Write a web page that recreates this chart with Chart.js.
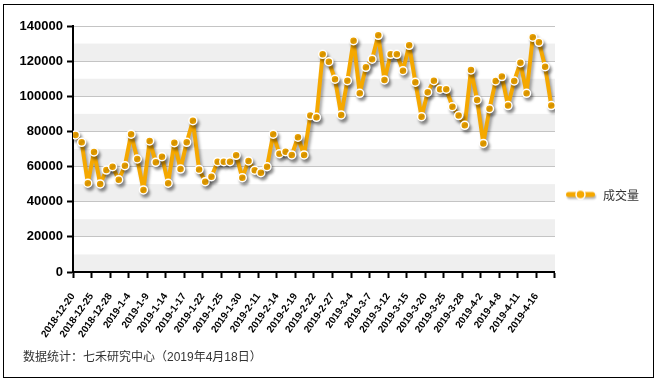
<!DOCTYPE html>
<html><head><meta charset="utf-8">
<script src="https://cdn.jsdelivr.net/npm/chart.js@4.4.1/dist/chart.umd.min.js"></script>
<style>html,body{margin:0;padding:0;background:#fff;} canvas{display:block;}</style>
</head><body>
<canvas id="c" width="657" height="382"></canvas>
<script>
const seriesName = '成交量';
const sourceNote = '数据统计：七禾研究中心（2019年4月18日）';
const tickLabels = ['2018-12-20','2018-12-25','2018-12-28','2019-1-4','2019-1-9','2019-1-14','2019-1-17','2019-1-22','2019-1-25','2019-1-30','2019-2-11','2019-2-14','2019-2-19','2019-2-22','2019-2-27','2019-3-4','2019-3-7','2019-3-12','2019-3-15','2019-3-20','2019-3-25','2019-3-28','2019-4-2','2019-4-8','2019-4-11','2019-4-16'];
const pointsPerLabel = 3;
const volumes = [
  78000, 73800, 50500, 68300, 50100, 58000, 59900, 52500, 60500, 78400,
  64300, 46700, 74600, 62400, 65600, 50500, 73600, 58600, 73800, 86100,
  58400, 51400, 54200, 62800, 62800, 62800, 66400, 53700, 63200, 57900,
  56500, 59900, 78400, 67300, 68500, 66600, 76700, 66600, 89000, 88000,
  123900, 119700, 109700, 89400, 108900, 131600, 101700, 116500, 121100, 134700,
  109300, 123900, 123900, 114600, 129000, 108000, 88400, 102300, 108900, 104000,
  104000, 94100, 89000, 83500, 115000, 97900, 73200, 92900, 108700, 111200,
  94700, 108700, 119100, 101700, 133600, 130700, 116800, 94700
];
const yMax = 140000, yStep = 10000, yLabelStep = 20000;

const ORANGE = '#F5A800';
const FONT = '"Liberation Sans", Arial, "Noto Sans CJK SC", sans-serif';
Chart.defaults.font.family = FONT;

const legendIcon = (() => {
  const c = document.createElement('canvas'); c.width = 32; c.height = 16;
  const g = c.getContext('2d');
  g.shadowColor = 'rgba(0,0,0,0.3)'; g.shadowBlur = 2; g.shadowOffsetX = 1; g.shadowOffsetY = 2;
  g.strokeStyle = ORANGE; g.lineWidth = 5; g.lineCap = 'round';
  g.beginPath(); g.moveTo(3.5, 7); g.lineTo(27.5, 7); g.stroke();
  g.shadowColor = 'rgba(0,0,0,0)';
  g.beginPath(); g.arc(15.5, 7, 4.5, 0, Math.PI * 2);
  g.fillStyle = ORANGE; g.fill(); g.lineWidth = 1.5; g.strokeStyle = '#fff'; g.stroke();
  return c;
})();

const framePlugin = {
  id: 'frame',
  afterLayout(chart) {
    // widen the y-axis label clip box leftwards so the wide tick labels are not cut
    chart.scales.y.left -= 8;
  },
  beforeDraw(chart) {
    const {ctx, chartArea: a, scales: {y}} = chart;
    ctx.save();
    ctx.fillStyle = '#fff'; ctx.fillRect(0, 0, chart.width, chart.height);
    ctx.fillStyle = '#efefef';
    for (let v = 0; v < y.max; v += 2 * yStep) {
      const t = y.getPixelForValue(v + yStep), b = y.getPixelForValue(v);
      ctx.fillRect(a.left, t, a.right - a.left, b - t);
    }
    ctx.strokeStyle = '#000'; ctx.lineWidth = 1;
    ctx.strokeRect(3.5, 4.5, 650, 373);
    ctx.restore();
  }
};
const shadowPlugin = {
  id: 'shadow',
  beforeDatasetsDraw(chart) {
    const ctx = chart.ctx; ctx.save();
    ctx.shadowColor = 'rgba(0,0,0,0.35)'; ctx.shadowBlur = 3; ctx.shadowOffsetX = 2; ctx.shadowOffsetY = 3;
  },
  afterDatasetsDraw(chart) { chart.ctx.restore(); }
};

new Chart(document.getElementById('c'), {
  type: 'line',
  data: {
    datasets: [{
      label: seriesName,
      data: volumes.map((v, i) => ({x: i + 0.4, y: v})),
      borderColor: ORANGE, backgroundColor: ORANGE, borderWidth: 4, borderJoinStyle: 'round', borderCapStyle: 'round',
      pointRadius: 4, pointBackgroundColor: ORANGE, pointBorderColor: '#fff', pointBorderWidth: 1.5,
      tension: 0, fill: false
    }]
  },
  options: {
    responsive: false, animation: false, devicePixelRatio: 1,
    layout: {padding: {left: 23, top: 26, right: 8, bottom: 17}},
    plugins: {
      legend: {
        position: 'right',
        labels: {usePointStyle: true, pointStyle: legendIcon, pointStyleWidth: 32, padding: 10,
                 font: {size: 12, family: '"Noto Sans CJK SC", sans-serif'}, color: '#333'}
      },
      title: {display: true, position: 'bottom', align: 'start', text: sourceNote,
              font: {size: 12, weight: 'normal'}, color: '#333', padding: 0},
      tooltip: {enabled: false}
    },
    scales: {
      x: {
        type: 'linear', min: 0, max: tickLabels.length * pointsPerLabel,
        afterFit(s) { s.height = 78.6; },
        grid: {drawOnChartArea: false, tickLength: 6, tickWidth: 2, tickColor: '#000'},
        border: {color: '#000', width: 2},
        ticks: {stepSize: pointsPerLabel, autoSkip: false, maxRotation: 55, minRotation: 55, padding: 13,
                font: {size: 10, weight: 'bold'}, color: '#000',
                callback: (v) => tickLabels[Math.round(v / pointsPerLabel)] ?? ''}
      },
      y: {
        min: 0, max: yMax,
        afterFit(s) { s.width = 50; },
        grid: {color: '#c4c4c4', lineWidth: 1, tickLength: 6, tickWidth: 2,
               tickColor: (c) => (c.tick && c.tick.value % yLabelStep === 0) ? '#000' : 'rgba(0,0,0,0)'},
        border: {color: '#000', width: 2},
        ticks: {stepSize: yStep, padding: 4, font: {size: 13, weight: 'bold'}, color: '#000',
                callback: (v) => v % yLabelStep === 0 ? String(v) : ''}
      }
    }
  },
  plugins: [framePlugin, shadowPlugin]
});
</script>
</body></html>
